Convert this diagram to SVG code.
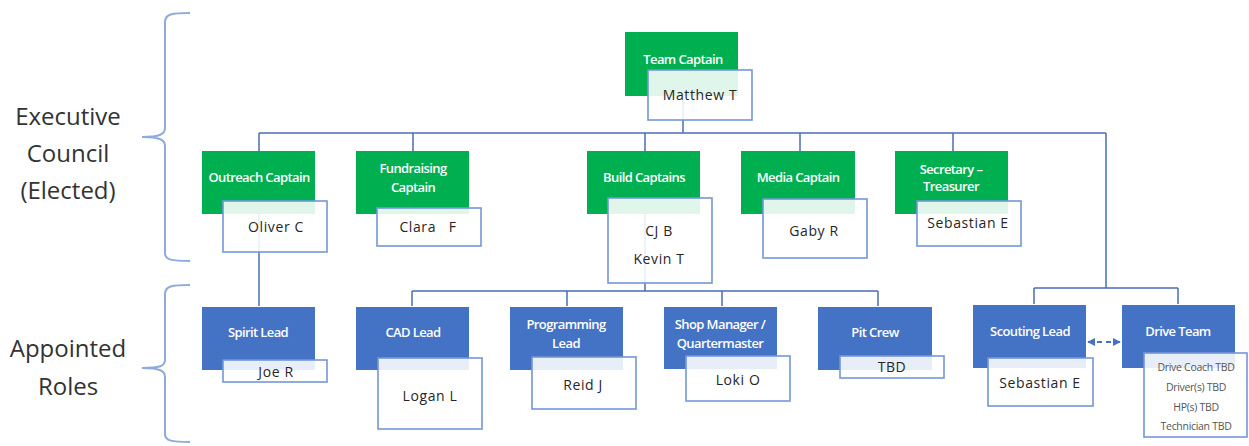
<svg xmlns="http://www.w3.org/2000/svg" width="1249" height="446" viewBox="0 0 1249 446">
<defs>
<marker id="ah" viewBox="0 0 10 10" refX="9" refY="5" markerWidth="4" markerHeight="4" orient="auto-start-reverse">
<path d="M0,0 L10,5 L0,10 z" fill="#4472C4"/>
</marker>
<style>
.g{fill:#00B050}
.b{fill:#4472C4}
.w{fill:#ffffff;fill-opacity:0.88;stroke:#7396D8;stroke-width:1.6}
.t{font-family:"Open Sans","Liberation Sans",sans-serif;font-size:13px;font-weight:600;fill:#ffffff;text-anchor:middle;letter-spacing:-0.6px}
.n{font-family:"Open Sans","Liberation Sans",sans-serif;font-size:14px;fill:#262626;text-anchor:middle;letter-spacing:0.6px}
.s{font-family:"Open Sans","Liberation Sans",sans-serif;font-size:10.5px;fill:#555555;text-anchor:middle;letter-spacing:-0.3px}
.side{font-family:"Open Sans","Liberation Sans",sans-serif;font-size:24px;fill:#333333;text-anchor:middle}
.c{fill:none;stroke:#4A6EB5;stroke-width:1.5}
.br{fill:none;stroke:#8FAADC;stroke-width:2}
</style>
</defs>
<rect width="1249" height="446" fill="#ffffff"/>

<g id="braces">
<path class="br" d="M190,13 C172,13 165,14 165,22 L165,128 C165,134 160,137 142,137 C160,137 165,140 165,146 L165,253 C165,260 172,261 190,261"/>
<path class="br" d="M190,285 C172,285 165,286 165,294 L165,360 C165,366 160,368 142,368 C160,368 165,371 165,377 L165,434 C165,441 172,442 190,442"/>
</g>
<g id="side-labels">
<text class="side" x="68" y="125">Executive</text>
<text class="side" x="68" y="162">Council</text>
<text class="side" x="68" y="199">(Elected)</text>
<text class="side" x="68" y="357">Appointed</text>
<text class="side" x="68" y="395">Roles</text>
</g>

<g id="connectors">
<path class="c" d="M683,96 L683,133"/>
<path class="c" d="M259,133 L1106,133"/>
<path class="c" d="M259,133 L259,151 M413,133 L413,151 M645,133 L645,151 M800,133 L800,151 M953,133 L953,151"/>
<path class="c" d="M259,214 L259,306"/>
<path class="c" d="M645,214 L645,291 M412,291 L878,291 M412,291 L412,306 M567,291 L567,306 M722,291 L722,306 M878,291 L878,306"/>
<path class="c" d="M1106,133 L1106,288 M1034,288 L1178,288 M1034,288 L1034,304 M1178,288 L1178,304"/>
<path d="M1088,342 L1120,342" fill="none" stroke="#4472C4" stroke-width="2" stroke-dasharray="5,4" marker-start="url(#ah)" marker-end="url(#ah)"/>
</g>

<g id="team-captain">
<rect class="g" x="625" y="32" width="113" height="64"/>
<text class="t" x="683" y="64">Team Captain</text>
<rect class="w" x="648" y="70" width="104" height="50"/>
<text class="n" x="700" y="100">Matthew T</text>
</g>

<g id="outreach-captain">
<rect class="g" x="202" y="151" width="113" height="63"/>
<text class="t" x="259" y="182">Outreach Captain</text>
<rect class="w" x="223" y="201" width="104" height="51"/>
<text class="n" x="276" y="232">Oliver C</text>
</g>

<g id="fundraising-captain">
<rect class="g" x="356" y="151" width="113" height="63"/>
<text class="t" x="413" y="173">Fundraising</text>
<text class="t" x="413" y="192">Captain</text>
<rect class="w" x="377" y="208" width="104" height="38"/>
<text class="n" x="428" y="232" xml:space="preserve">Clara   F</text>
</g>

<g id="build-captains">
<rect class="g" x="587" y="151" width="113" height="63"/>
<text class="t" x="644" y="182">Build Captains</text>
<rect class="w" x="608" y="198" width="104" height="85"/>
<text class="n" x="659" y="236">CJ B</text>
<text class="n" x="659" y="264">Kevin T</text>
</g>

<g id="media-captain">
<rect class="g" x="741" y="151" width="114" height="63"/>
<text class="t" x="798" y="182">Media Captain</text>
<rect class="w" x="763" y="199" width="104" height="59"/>
<text class="n" x="814" y="236">Gaby R</text>
</g>

<g id="secretary-treasurer">
<rect class="g" x="895" y="151" width="113" height="63"/>
<text class="t" x="951" y="174">Secretary –</text>
<text class="t" x="951" y="191">Treasurer</text>
<rect class="w" x="917" y="201" width="104" height="45"/>
<text class="n" x="968" y="228">Sebastian E</text>
</g>

<g id="spirit-lead">
<rect class="b" x="202" y="307" width="113" height="63"/>
<text class="t" x="258" y="337">Spirit Lead</text>
<rect class="w" x="223" y="360" width="104" height="22"/>
<text class="n" x="276" y="377">Joe R</text>
</g>

<g id="cad-lead">
<rect class="b" x="356" y="307" width="113" height="63"/>
<text class="t" x="413" y="337">CAD Lead</text>
<rect class="w" x="378" y="358" width="104" height="71"/>
<text class="n" x="430" y="401">Logan L</text>
</g>

<g id="programming-lead">
<rect class="b" x="510" y="307" width="113" height="63"/>
<text class="t" x="566" y="329">Programming</text>
<text class="t" x="566" y="348">Lead</text>
<rect class="w" x="532" y="357" width="104" height="52"/>
<text class="n" x="583" y="390">Reid J</text>
</g>

<g id="shop-manager">
<rect class="b" x="664" y="307" width="113" height="62"/>
<text class="t" x="720" y="329">Shop Manager /</text>
<text class="t" x="720" y="348">Quartermaster</text>
<rect class="w" x="686" y="356" width="104" height="45"/>
<text class="n" x="738" y="385">Loki O</text>
</g>

<g id="pit-crew">
<rect class="b" x="818" y="307" width="114" height="63"/>
<text class="t" x="875" y="337">Pit Crew</text>
<rect class="w" x="840" y="356" width="104" height="22"/>
<text class="n" x="892" y="372">TBD</text>
</g>

<g id="scouting-lead">
<rect class="b" x="973" y="305" width="113" height="63"/>
<text class="t" x="1030" y="336">Scouting Lead</text>
<rect class="w" x="988" y="358" width="105" height="48"/>
<text class="n" x="1040" y="388">Sebastian E</text>
</g>

<g id="drive-team">
<rect class="b" x="1122" y="305" width="113" height="63"/>
<text class="t" x="1178" y="336">Drive Team</text>
<rect class="w" x="1144" y="353" width="103" height="84"/>
<text class="s" x="1196" y="371">Drive Coach TBD</text>
<text class="s" x="1196" y="391">Driver(s) TBD</text>
<text class="s" x="1196" y="411">HP(s) TBD</text>
<text class="s" x="1196" y="430">Technician TBD</text>
</g>
</svg>
